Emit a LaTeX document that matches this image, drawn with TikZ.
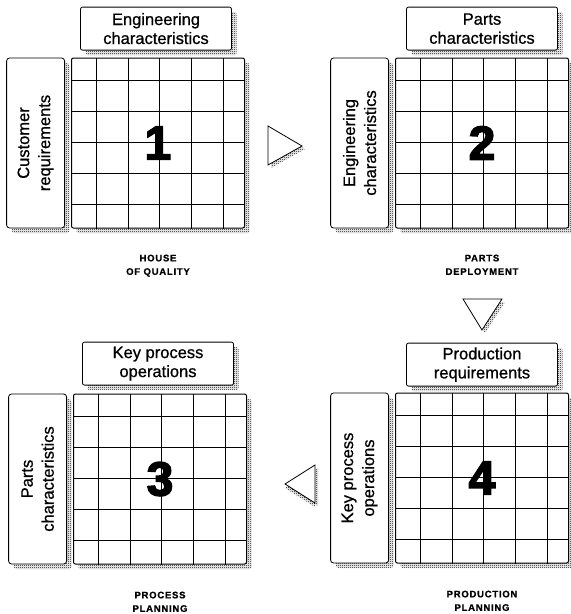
\documentclass[tikz,border=0pt]{standalone}
\usepackage{fontspec}
\setmainfont[FakeBold=0.8]{Liberation Sans}
\newfontfamily\numfont[FakeBold=3]{Liberation Sans}
\newfontfamily\tagfont[LetterSpace=8,FakeBold=1]{Liberation Sans}
\usetikzlibrary{positioning,shadows,patterns,calc}

% fine checker used for the shadows
\pgfdeclarepatternformonly{dither}{\pgfpointorigin}{\pgfpoint{2pt}{2pt}}{\pgfpoint{2pt}{2pt}}{%
  \pgfpathrectangle{\pgfpointorigin}{\pgfpoint{1pt}{1pt}}%
  \pgfpathrectangle{\pgfpoint{1pt}{1pt}}{\pgfpoint{1pt}{1pt}}%
  \pgfusepath{fill}}

% inner lines of one planning matrix
\newcommand{\matrixlines}[1]{%
  \foreach \dx in {25,57,88,120,152}
    \draw[gridline] ($(#1.north west)+(\dx pt,0pt)$) -- ($(#1.south west)+(\dx pt,0pt)$);
  \foreach \dy in {23,54,85,116,147}
    \draw[gridline] ($(#1.north west)+(0pt,-\dy pt)$) -- ($(#1.north east)+(0pt,-\dy pt)$);
}

\begin{document}
\begin{tikzpicture}[x=1pt, y=-1pt, node distance=6pt,
    hatched/.style={drop shadow={shadow xshift=5pt, shadow yshift=-5pt, opacity=1, pattern=dither}},
    gridline/.style={line width=1pt},
    matrixbox/.style={draw, line width=1pt, rounded corners=2pt, fill=white, hatched,
      minimum width=173pt, minimum height=170pt},
    headbox/.style={draw, line width=0.8pt, rounded corners=2pt, fill=white, hatched,
      minimum width=151pt, minimum height=43pt, align=center, font=\fontsize{16.5}{19}\selectfont},
    sidebox/.style={draw, line width=0.8pt, rounded corners=3pt, fill=white, hatched,
      minimum width=58pt, minimum height=170pt},
    sidetext/.style={rotate=90, align=center, font=\fontsize{16.5}{21}\selectfont},
    bignum/.style={font=\numfont\bfseries\fontsize{48}{48}\selectfont},
    tag/.style={align=center, inner sep=0pt, font=\tagfont\bfseries\fontsize{9.5}{13.5}\selectfont},
    pointer/.style={draw, line width=0.8pt, fill=white,
      drop shadow={shadow xshift=3pt, shadow yshift=-3pt, opacity=1, pattern=dither}}]
    \useasboundingbox (0,0) rectangle (571,614);

    % Matrices
    \node[matrixbox] (grid1) at (158,143) {};
    \node[matrixbox, right=150pt of grid1] (grid2) {};
    \node[matrixbox, below=165pt of grid1, xshift=2pt] (grid3) {};
    \node[matrixbox, below=164pt of grid2] (grid4) {};
    \matrixlines{grid1}
    \matrixlines{grid2}
    \matrixlines{grid3}
    \matrixlines{grid4}
    \node[bignum] (num1) at (grid1) {1};
    \node[bignum] (num2) at (grid2) {2};
    \node[bignum] (num3) at (grid3) {3};
    \node[bignum] (num4) at (grid4) {4};

    % Column headings
    \node[headbox, above=7pt of grid1, xshift=-2pt] (head1) {Engineering\\characteristics};
    \node[headbox, above=7pt of grid2] (head2) {Parts\\characteristics};
    \node[headbox, above=8pt of grid3, xshift=-2pt] (head3) {Key process\\operations};
    \node[headbox, above=6pt of grid4] (head4) {Production\\requirements};

    % Row headings
    \node[sidebox, left=of grid1] (side1) {};
    \node[sidebox, left=of grid2] (side2) {};
    \node[sidebox, left=of grid3] (side3) {};
    \node[sidebox, left=of grid4] (side4) {};
    \node[sidetext] (sidetext1) at (side1) {Customer\\requirements};
    \node[sidetext] (sidetext2) at (side2) {Engineering\\characteristics};
    \node[sidetext] (sidetext3) at (side3) {Parts\\characteristics};
    \node[sidetext] (sidetext4) at (side4) {Key process\\operations};

    % Phase names
    \node[tag, below=26pt of grid1] (tag1) {HOUSE\\OF QUALITY};
    \node[tag, below=26pt of grid2] (tag2) {PARTS\\DEPLOYMENT};
    \node[tag, below=27pt of grid3] (tag3) {PROCESS\\PLANNING};
    \node[tag, below=27pt of grid4] (tag4) {PRODUCTION\\PLANNING};

    % Pointers between phases
    \draw[pointer] (268,126) -- (302,146) -- (268,165) -- cycle;
    \draw[pointer] (463,299) -- (502,299) -- (482,330) -- cycle;
    \draw[pointer, drop shadow={shadow xshift=0pt, shadow yshift=-4pt, opacity=1, pattern=dither}]
      (315,465) -- (315,503) -- (285,484) -- cycle;
\end{tikzpicture}
\end{document}
